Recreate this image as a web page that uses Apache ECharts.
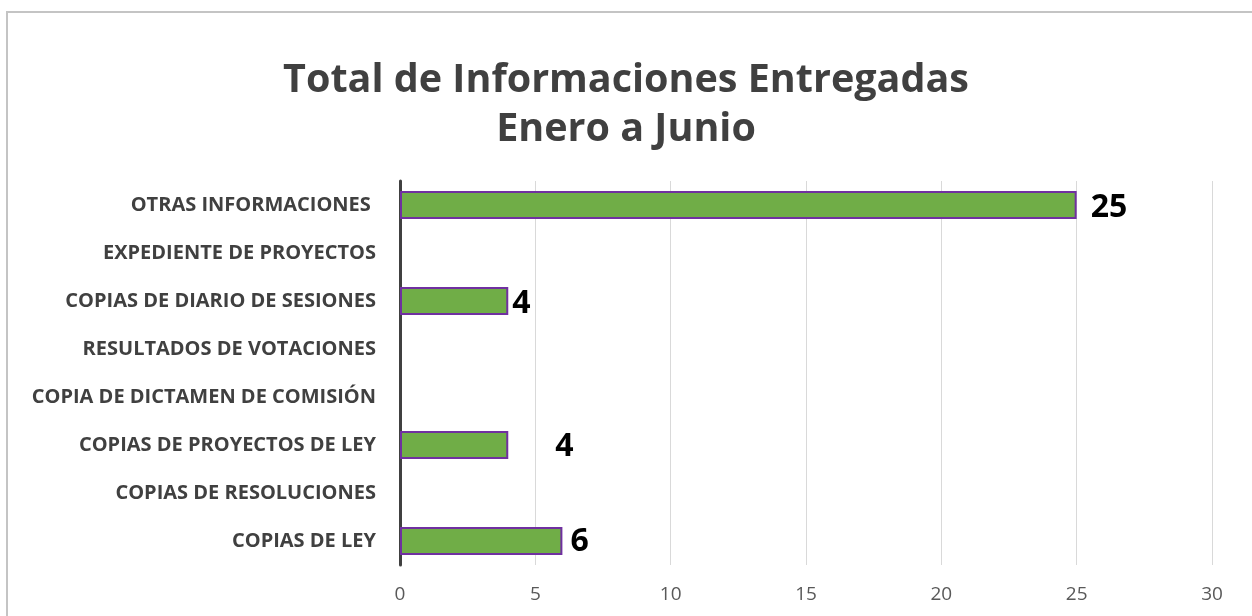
<!DOCTYPE html>
<html>
<head>
<meta charset="utf-8">
<script src="https://cdn.jsdelivr.net/npm/echarts@6/dist/echarts.min.js"></script>
<style>
html,body{margin:0;padding:0;background:#fff;}
#chart{width:1252px;height:616px;}
</style>
</head>
<body>
<div id="chart"></div>
<script>
const categories = [
  'OTRAS INFORMACIONES ',
  'EXPEDIENTE DE PROYECTOS',
  'COPIAS DE DIARIO DE SESIONES',
  'RESULTADOS DE VOTACIONES',
  'COPIA DE DICTAMEN DE COMISIÓN',
  'COPIAS DE PROYECTOS DE LEY',
  'COPIAS DE RESOLUCIONES',
  'COPIAS DE LEY'
];
const values = [25, null, 4, null, null, 4, null, 6];
const xTicks = [0, 5, 10, 15, 20, 25, 30];

const labelOffsets = { 0: [7, 3], 2: [-3, 3], 5: [40, 2], 7: [1, 1] };

const chart = echarts.init(document.getElementById('chart'));
chart.setOption({
  animation: false,
  title: {
    text: 'Total de Informaciones Entregadas\nEnero a Junio',
    left: 'center',
    top: 51,
    textStyle: {
      fontFamily: 'Open Sans',
      fontWeight: 'bold',
      fontSize: 39.5,
      lineHeight: 49,
      color: '#404040'
    }
  },
  graphic: [{
    type: 'rect',
    shape: { x: 7, y: 12, width: 1250, height: 700 },
    style: { fill: 'none', stroke: '#c4c4c4', lineWidth: 2 },
    silent: true
  }],
  grid: { left: 400, right: 40, top: 181, bottom: 51, containLabel: false },
  xAxis: {
    type: 'value',
    min: xTicks[0],
    max: xTicks[xTicks.length - 1],
    interval: 5,
    axisLine: { show: false },
    axisTick: { show: false },
    splitLine: { show: true, lineStyle: { color: '#d9d9d9', width: 1 } },
    axisLabel: { color: '#595959', fontSize: 19, fontFamily: 'Open Sans', margin: 20 }
  },
  yAxis: {
    type: 'category',
    data: categories,
    inverse: true,
    axisLine: { show: true, lineStyle: { color: '#404040', width: 3 } },
    axisTick: { show: false },
    axisLabel: {
      color: '#404040',
      fontSize: 20,
      fontWeight: 'bold',
      fontFamily: 'Open Sans',
      margin: 24
    }
  },
  series: [{
    type: 'bar',
    data: values.map((v, i) => {
      if (labelOffsets[i]) {
        return { value: v, label: { offset: labelOffsets[i] } };
      }
      return v;
    }),
    barWidth: 28,
    itemStyle: { color: '#70ad47', borderColor: '#7030a0', borderWidth: 2 },
    label: {
      show: true,
      position: 'right',
      distance: 7,
      color: '#000',
      fontSize: 32,
      fontWeight: 'bold',
      fontFamily: 'Open Sans'
    }
  }]
});
</script>
</body>
</html>
